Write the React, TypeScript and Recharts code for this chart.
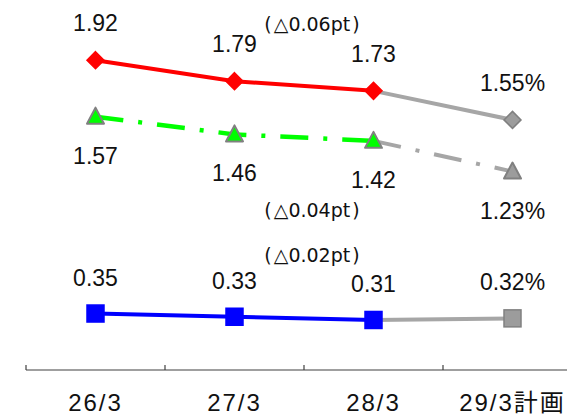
import React from 'react';
import { LineChart, Line, XAxis, YAxis, LabelList, ReferenceArea } from 'recharts';

const categories = ['26/3', '27/3', '28/3', '29/3計画'];
const redActual = [1.92, 1.79, 1.73, null];
const redPlan = [null, null, 1.73, 1.55];
const greenActual = [1.57, 1.46, 1.42, null];
const greenPlan = [null, null, 1.42, 1.23];
const blueActual = [0.35, 0.33, 0.31, null];
const bluePlan = [null, null, 0.31, 0.32];
const notes = ['△0.06pt', '△0.04pt', '△0.02pt'];
const noteLevels = [2.145, 0.99, 0.71];

const data = categories.map((cat, i) => ({
  cat,
  ra: redActual[i],
  rp: redPlan[i],
  ga: greenActual[i],
  gp: greenPlan[i],
  ba: blueActual[i],
  bp: bluePlan[i],
}));

const FONT = '"Liberation Sans", Arial, "Noto Sans CJK JP", sans-serif';
const NOTE_FONT = '"DejaVu Sans", "Noto Sans CJK JP", sans-serif';
const GRAY_LINE = '#A6A6A6';
const GRAY_FILL = '#9C9C9C';
const GRAY_STROKE = '#808080';
const AXIS = '#404040';

type Shape = 'diamond' | 'triangle' | 'square';

const drawShape = (shape: Shape, cx: number, cy: number, fill: string, stroke: string, key: any) => {
  if (shape === 'diamond') {
    const h = 8.5;
    return (
      <polygon
        key={key}
        points={`${cx},${cy - h} ${cx + h},${cy} ${cx},${cy + h} ${cx - h},${cy}`}
        fill={fill}
        stroke={stroke}
        strokeWidth={1.5}
      />
    );
  }
  if (shape === 'triangle') {
    return (
      <polygon
        key={key}
        points={`${cx},${cy - 9} ${cx + 8.5},${cy + 7} ${cx - 8.5},${cy + 7}`}
        fill={fill}
        stroke={stroke}
        strokeWidth={2}
        strokeLinejoin="round"
      />
    );
  }
  const s = 8.5;
  return (
    <rect key={key} x={cx - s} y={cy - s} width={2 * s} height={2 * s} fill={fill} stroke={stroke} strokeWidth={1.5} />
  );
};

const makeDot = (shape: Shape, fill: string, stroke: string, onlyIndex?: number) => (props: any) => {
  const { cx, cy, index, value } = props;
  if (cx == null || cy == null || value == null || (onlyIndex !== undefined && index !== onlyIndex)) {
    return <g key={`d${index}`} />;
  }
  return drawShape(shape, cx, cy, fill, stroke, `d${index}`);
};

const makeLabel = (offset: number, suffix: string, onlyIndex?: number) => (props: any) => {
  const { x, y, value, index } = props;
  if (value == null || x == null || y == null) return null;
  if (onlyIndex !== undefined && index !== onlyIndex) return null;
  return (
    <text
      x={x}
      y={y + offset}
      textAnchor="middle"
      dominantBaseline="central"
      fontSize={23}
      fontFamily={FONT}
      fill="#111"
    >
      {`${value.toFixed(2)}${suffix}`}
    </text>
  );
};

const CatTick = (props: any) => {
  const { x, y, payload, index, visibleTicksCount } = props;
  const off = payload && typeof payload.offset === 'number' ? payload.offset : 0;
  const last = visibleTicksCount != null ? index === visibleTicksCount - 1 : index === categories.length - 1;
  return (
    <g>
      <line x1={x - off} x2={x - off} y1={y} y2={y - 5} stroke={AXIS} strokeWidth={1.2} />
      {last && <line x1={x + off} x2={x + off} y1={y} y2={y - 5} stroke={AXIS} strokeWidth={1.2} />}
      <text x={x} y={y + 32} textAnchor="middle" dominantBaseline="central" fontSize={24} fontFamily={FONT} fill="#111" letterSpacing={2}>
        {payload.value}
      </text>
    </g>
  );
};

const NoteLabel = (text: string) => (props: any) => {
  const vb = props.viewBox || {};
  const x = vb.x + (vb.width || 0) / 2;
  const y = vb.y + (vb.height || 0) / 2;
  return (
    <text x={x + 8} y={y} textAnchor="middle" dominantBaseline="central" fontSize={19} fontFamily={NOTE_FONT} fill="#111">
      <tspan>(</tspan>
      <tspan dx={2}>{text}</tspan>
      <tspan dx={2}>)</tspan>
    </text>
  );
};

export default function App() {
  return (
    <div style={{ position: 'absolute', left: 0, top: 0, width: 567, height: 414, overflow: 'hidden', background: '#fff' }}>
      <LineChart width={600} height={414} data={data} margin={{ top: 15, right: 18, left: 26, bottom: 0 }}>
        <XAxis
          dataKey="cat"
          scale="band"
          height={44}
          axisLine={{ stroke: AXIS, strokeWidth: 1.2 }}
          tickLine={false}
          tickSize={0}
          tickMargin={0}
          tick={<CatTick />}
          interval={0}
        />
        <YAxis hide domain={[0, 2.2]} />

        <Line dataKey="rp" stroke={GRAY_LINE} strokeWidth={4} isAnimationActive={false}
          dot={makeDot('diamond', GRAY_FILL, GRAY_STROKE, 3)} activeDot={false}>
          <LabelList dataKey="rp" content={makeLabel(-37, '%', 3)} />
        </Line>
        <Line dataKey="gp" stroke={GRAY_LINE} strokeWidth={4} strokeDasharray="28 15 4 15" isAnimationActive={false}
          dot={makeDot('triangle', GRAY_FILL, GRAY_STROKE, 3)} activeDot={false}>
          <LabelList dataKey="gp" content={makeLabel(39, '%', 3)} />
        </Line>
        <Line dataKey="bp" stroke={GRAY_LINE} strokeWidth={4} isAnimationActive={false}
          dot={makeDot('square', GRAY_FILL, GRAY_STROKE, 3)} activeDot={false}>
          <LabelList dataKey="bp" content={makeLabel(-36, '%', 3)} />
        </Line>

        <Line dataKey="ra" stroke="#FF0000" strokeWidth={4} isAnimationActive={false}
          dot={makeDot('diamond', '#FF0000', '#FF0000')} activeDot={false}>
          <LabelList dataKey="ra" content={makeLabel(-37, '')} />
        </Line>
        <Line dataKey="ga" stroke="#00FF00" strokeWidth={4.5} strokeDasharray="28 15 4 15" isAnimationActive={false}
          dot={makeDot('triangle', '#00FF00', GRAY_STROKE)} activeDot={false}>
          <LabelList dataKey="ga" content={makeLabel(39, '')} />
        </Line>
        <Line dataKey="ba" stroke="#0000FF" strokeWidth={4} isAnimationActive={false}
          dot={makeDot('square', '#0000FF', '#0000FF')} activeDot={false}>
          <LabelList dataKey="ba" content={makeLabel(-36, '')} />
        </Line>

        {notes.map((t, i) => (
          <ReferenceArea
            key={t}
            x1={categories[1]}
            x2={categories[2]}
            y1={noteLevels[i] - 0.01}
            y2={noteLevels[i] + 0.01}
            fill="none"
            fillOpacity={0}
            stroke="none"
            label={NoteLabel(t)}
          />
        ))}
      </LineChart>
    </div>
  );
}
